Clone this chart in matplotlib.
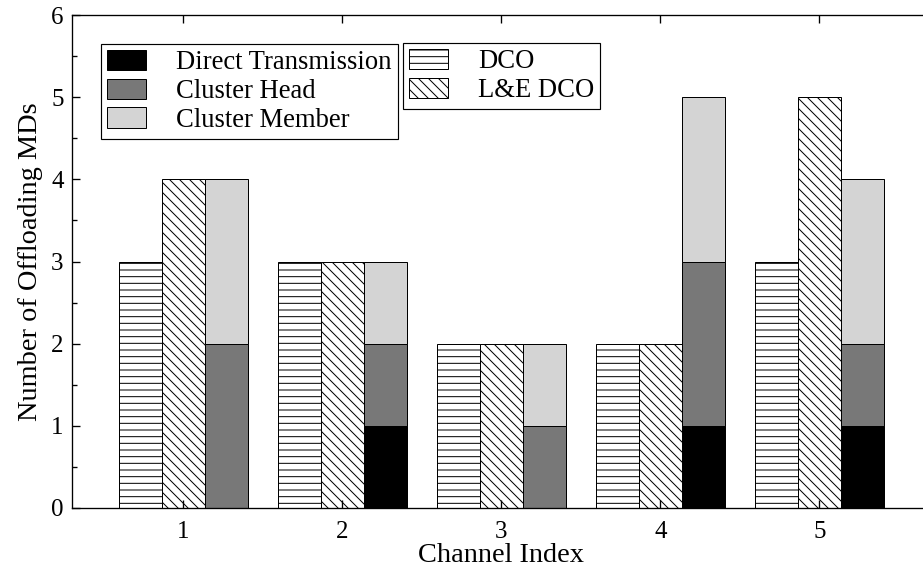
import matplotlib
matplotlib.use("Agg")
import matplotlib.pyplot as plt
import numpy as np
from matplotlib.ticker import MultipleLocator

plt.rcParams['font.family'] = ['Liberation Serif', 'DejaVu Serif']
plt.rcParams['hatch.linewidth'] = 0.6

channels = [1, 2, 3, 4, 5]
dco = [3, 3, 2, 2, 3]
le_dco = [4, 3, 2, 2, 5]
direct_tx = [0, 1, 0, 1, 1]
cluster_head = [2, 1, 1, 2, 1]
cluster_member = [2, 1, 1, 2, 2]

DPI = 120
fig = plt.figure(figsize=(923 / DPI, 570 / DPI), dpi=DPI)
ax = fig.add_axes([72 / 923, 1 - 508 / 570, 5.4 * 159 / 923, 493 / 570])

x = np.array(channels, dtype=float)
w = 0.27
lw = 0.6

b_dco = ax.bar(x - w, dco, w, facecolor='white', edgecolor='black', hatch='---', linewidth=lw, label='DCO')
b_le = ax.bar(x, le_dco, w, facecolor='white', edgecolor='black', hatch='\\\\\\\\', linewidth=lw, label='L&E DCO')
dt = np.array(direct_tx, dtype=float)
ch = np.array(cluster_head, dtype=float)
cm = np.array(cluster_member, dtype=float)
b_dt = ax.bar(x + w, dt, w, color='black', edgecolor='black', linewidth=lw, label='Direct Transmission')
b_ch = ax.bar(x + w, ch, w, bottom=dt, color='#787878', edgecolor='black', linewidth=lw, label='Cluster Head')
b_cm = ax.bar(x + w, cm, w, bottom=dt + ch, color='#d4d4d4', edgecolor='black', linewidth=lw, label='Cluster Member')

ax.set_xlim(0.3, 5.7)
ax.set_ylim(0, 6)
ax.set_xticks(channels)
ax.set_yticks(range(0, 7))
ax.yaxis.set_minor_locator(MultipleLocator(0.5))
ax.tick_params(axis='both', which='both', direction='in', top=True, right=True, labelsize=15, width=0.8)
ax.tick_params(axis='both', which='major', length=5)
ax.tick_params(axis='y', which='minor', length=3)
ax.tick_params(axis='x', which='minor', bottom=False, top=False)
ax.tick_params(axis='x', pad=8)
ax.tick_params(axis='y', pad=5)
for s in ax.spines.values():
    s.set_linewidth(0.8)

ax.set_xlabel('Channel Index', fontsize=17, labelpad=0)
ax.set_ylabel('Number of Offloading MDs', fontsize=17, labelpad=5)

leg_kw = dict(loc='upper left', fontsize=16, frameon=True, fancybox=False, framealpha=1,
              edgecolor='black', handlelength=1.45, handleheight=0.8, handletextpad=1.15,
              borderpad=0.22, labelspacing=0.12, borderaxespad=0)
leg1 = fig.legend(handles=[b_dt, b_ch, b_cm], bbox_to_anchor=(101 / 923, 1 - 44 / 570), **leg_kw)
leg1.get_frame().set_linewidth(0.7)
leg2 = fig.legend(handles=[b_dco, b_le], bbox_to_anchor=(403 / 923, 1 - 43 / 570), **leg_kw)
leg2.get_frame().set_linewidth(0.7)

fig.savefig('out.png', dpi=DPI)
